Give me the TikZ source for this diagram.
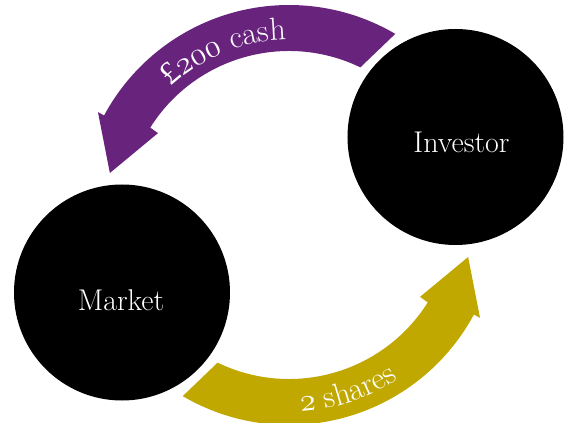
\RequirePackage{fix-cm}
\documentclass[tikz,border=0pt]{standalone}
\usepackage{fontspec}
\newfontfamily\poundfont{Liberation Serif}
\usetikzlibrary{decorations.text}
\definecolor{purp}{RGB}{104,35,125}
\definecolor{gold}{RGB}{192,168,0}
\begin{document}
\begin{tikzpicture}[x=1pt,y=1pt,
  circ/.style={circle, fill=black, minimum size=216pt, inner sep=0pt},
  lbl/.style={text=white, font=\fontsize{30}{36}\selectfont, inner sep=0pt},
  arctext/.style={decorate, decoration={text along path, text align=center, text={#1}}}
  ]
\useasboundingbox (-289,-208) rectangle (282,215);
% circles
\node[circ] (inv) at (166.5,78) {};
\node[circ] (mkt) at (-167,-77.5) {};
\node[lbl] (invlbl) at (172.5,73) {Investor};
\node[lbl] (mktlbl) at (-168,-85) {Market};
% purple arrow (Investor -> Market)
\fill[purp] (59.6:210pt) arc[start angle=59.6, end angle=151.7, radius=210pt]
  -- (151.7:217pt) -- (166.8:184pt) -- (148:154.5pt) -- (147.8:164pt)
  arc[start angle=147.8, end angle=64.2, radius=164pt] -- cycle;
% gold arrow (Market -> Investor)
\fill[gold] (239.6:210pt) arc[start angle=239.6, end angle=331.7, radius=210pt]
  -- (331.7:217pt) -- (346.8:184pt) -- (328:154.5pt) -- (327.8:164pt)
  arc[start angle=327.8, end angle=244.2, radius=164pt] -- cycle;
% arc labels
\path[arctext={|\fontsize{32}{38}\selectfont\color{white}|{\poundfont £}{$\mathnormal{2}$}{$\mathnormal{0}$}{$\mathnormal{0}$} cash}]
  (151.8:175pt) arc[start angle=151.8, end angle=71.8, radius=175pt];
\path[arctext={|\fontsize{32}{38}\selectfont\color{white}|{$\mathnormal{2}$} shares}]
  (-111.5:197pt) arc[start angle=-111.5, end angle=-31.5, radius=197pt];
\end{tikzpicture}
\end{document}
